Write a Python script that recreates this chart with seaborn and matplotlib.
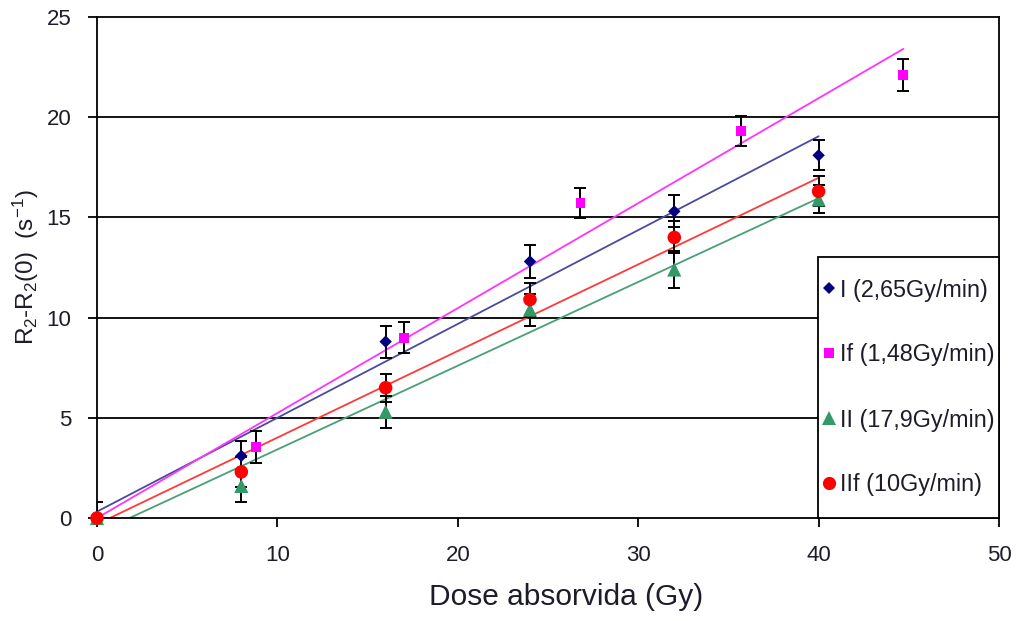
import numpy as np
import pandas as pd
import matplotlib
matplotlib.use("Agg")
import matplotlib.pyplot as plt
from matplotlib.lines import Line2D
from matplotlib.patches import Rectangle
import seaborn as sns

# ---------------- data ----------------
dose_I = [0, 8, 16, 24, 32, 40]
r2_I = [0, 3.1, 8.8, 12.8, 15.3, 18.1]
err_I = [0.8, 0.75, 0.8, 0.8, 0.8, 0.75]

dose_If = [0, 8.8, 17, 26.8, 35.7, 44.7]
r2_If = [0, 3.55, 9.0, 15.7, 19.3, 22.1]
err_If = [0, 0.8, 0.77, 0.75, 0.75, 0.8]

dose_II = [0, 8, 16, 24, 32, 40]
r2_II = [0, 1.6, 5.3, 10.4, 12.4, 15.9]
err_II = [0, 0.8, 0.8, 0.8, 0.9, 0.7]

dose_IIf = [0, 8, 16, 24, 32, 40]
r2_IIf = [0, 2.3, 6.5, 10.9, 14.0, 16.3]
err_IIf = [0, 0.75, 0.7, 0.85, 0.8, 0.75]

labels = ["I (2,65Gy/min)", "If (1,48Gy/min)", "II (17,9Gy/min)", "IIf (10Gy/min)"]
x_ticks = [0, 10, 20, 30, 40, 50]
y_ticks = [0, 5, 10, 15, 20, 25]
x_label = "Dose absorvida (Gy)"
y_label = r"R$_2$-R$_2$(0)  (s$^{-1}$)"

# ---------------- style ----------------
sns.set_style("ticks")
plt.rcParams["font.family"] = ["Liberation Sans", "DejaVu Sans"]
plt.rcParams["mathtext.fontset"] = "custom"
plt.rcParams["mathtext.rm"] = "Liberation Sans"
plt.rcParams["mathtext.it"] = "Liberation Sans:italic"
plt.rcParams["mathtext.bf"] = "Liberation Sans:bold"
text_color = "#1c1c2a"

series = [
    dict(x=dose_I, y=r2_I, e=err_I, marker="D", mcolor="#000080", lcolor="#4a4a9e", s=40),
    dict(x=dose_If, y=r2_If, e=err_If, marker="s", mcolor="#ff00ff", lcolor="#ff33ff", s=50),
    dict(x=dose_II, y=r2_II, e=err_II, marker="^", mcolor="#339966", lcolor="#48a076", s=105),
    dict(x=dose_IIf, y=r2_IIf, e=err_IIf, marker="o", mcolor="#ff0000", lcolor="#ff3a3a", s=95),
]

fig = plt.figure(figsize=(10.17, 6.21), dpi=100)
ax = fig.add_axes([97 / 1017, 1 - 518 / 621, 902 / 1017, 501 / 621])

ax.set_xlim(0, 50)
ax.set_ylim(0, 25)

# horizontal grid lines
for yv in y_ticks[1:-1]:
    ax.axhline(yv, color="black", lw=1.3, zorder=1)

# regression lines
for sdat in series:
    df = pd.DataFrame({"x": sdat["x"], "y": sdat["y"]})
    sns.regplot(data=df, x="x", y="y", ax=ax, scatter=False, ci=None, truncate=True,
                line_kws=dict(color=sdat["lcolor"], lw=1.3, zorder=2))

# error bars
for sdat in series:
    ax.errorbar(sdat["x"], sdat["y"], yerr=sdat["e"], fmt="none", ecolor="black",
                elinewidth=1.4, capsize=4.5, capthick=1.4, zorder=3)

# markers
for sdat in series:
    sns.scatterplot(x=sdat["x"], y=sdat["y"], ax=ax, marker=sdat["marker"],
                    color=sdat["mcolor"], s=sdat["s"], edgecolor="none", zorder=4,
                    clip_on=False)

ax.set_xticks(x_ticks)
ax.set_yticks(y_ticks)
ax.tick_params(axis="both", direction="out", length=6.5, width=1.3, colors="black",
               labelsize=16, labelcolor=text_color)
ax.tick_params(axis="x", pad=13)
ax.tick_params(axis="y", pad=12)
for sp in ax.spines.values():
    sp.set_visible(True)
    sp.set_color("black")
    sp.set_linewidth(1.3)

ax.set_xlabel(x_label, fontsize=21.5, color=text_color, labelpad=12, x=0.52)
ax.set_ylabel(y_label, fontsize=17.5, color=text_color, labelpad=4)

# legend box
bx0, by0, bw, bh = (818 - 97) / 902, 0.0, (999 - 818) / 902, (518 - 257) / 501
ax.add_patch(Rectangle((bx0, by0), bw, bh, transform=ax.transAxes, facecolor="white",
                       edgecolor="black", lw=1.3, zorder=6, clip_on=False))
handles = [Line2D([], [], linestyle="none", marker=sd["marker"], color=sd["mcolor"],
                  markersize=ms, markeredgewidth=0)
           for sd, ms in zip(series, [6.5, 7, 10, 9.5])]
leg = ax.legend(handles, labels, loc="center", bbox_to_anchor=(bx0, by0, bw, bh),
                frameon=False, fontsize=16.8, labelspacing=1.8, handlelength=0.6,
                handletextpad=0.15, borderpad=0.2, labelcolor=text_color)
leg.set_zorder(7)

fig.savefig("out.png", dpi=100)
